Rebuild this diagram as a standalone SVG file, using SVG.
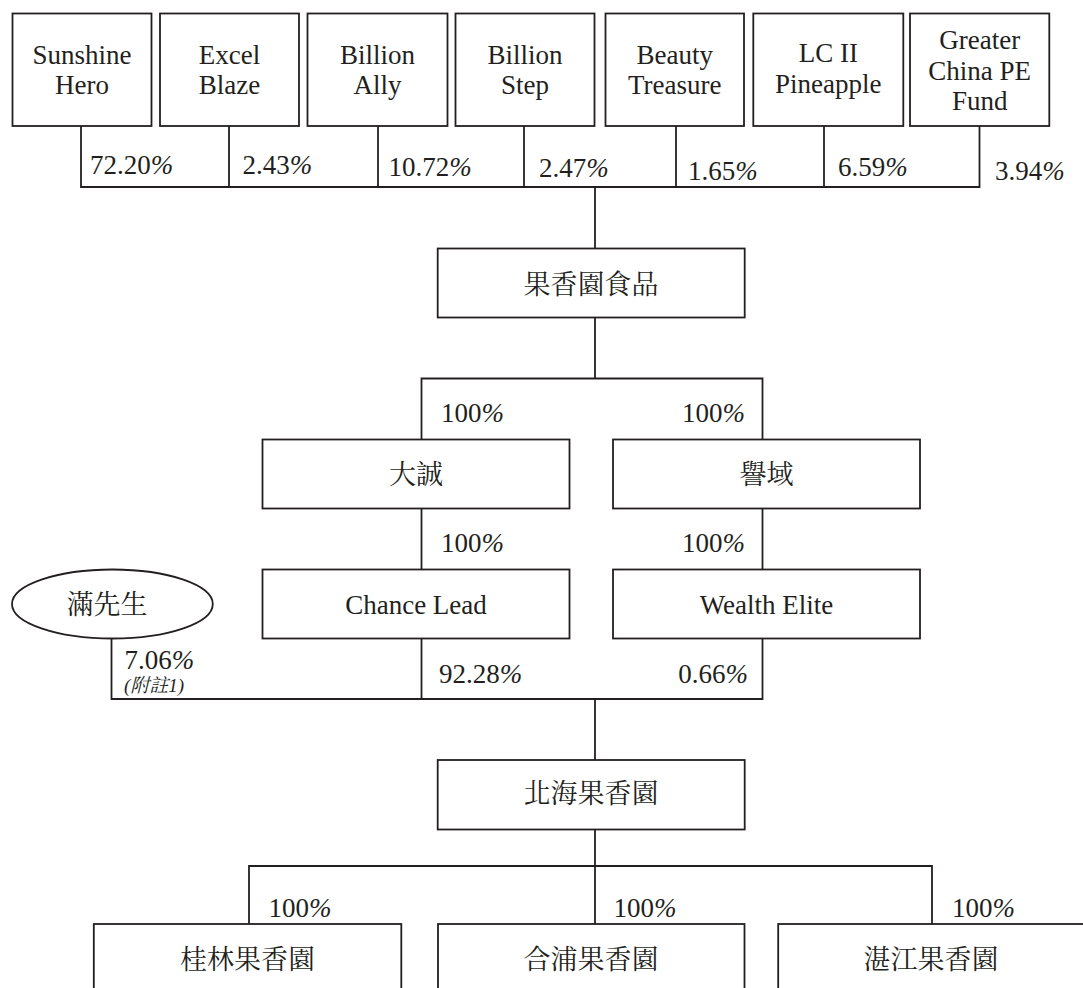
<svg xmlns="http://www.w3.org/2000/svg" width="1083" height="988" viewBox="0 0 1083 988">
<style>
.box{fill:#fff;stroke:#231f20;stroke-width:1.8}
.ln{fill:none;stroke:#231f20;stroke-width:1.8}
text{font-family:"Liberation Serif","Noto Serif CJK TC","Noto Sans CJK TC",serif;font-size:27px;fill:#231f20}
.c{text-anchor:middle}
.e{text-anchor:end}
.i{font-style:italic}
.note{font-size:19px;font-style:italic}
</style>
<rect width="1083" height="988" fill="#fff"/>
<g id="connectors">
<polyline class="ln" points="81,126 81,187 979.5,187 979.5,126"/>
<line class="ln" x1="229" y1="126" x2="229" y2="187"/>
<line class="ln" x1="378" y1="126" x2="378" y2="187"/>
<line class="ln" x1="524" y1="126" x2="524" y2="187"/>
<line class="ln" x1="676" y1="126" x2="676" y2="187"/>
<line class="ln" x1="824" y1="126" x2="824" y2="187"/>
<line class="ln" x1="595" y1="187" x2="595" y2="248.5"/>
<line class="ln" x1="595" y1="317.5" x2="595" y2="378.5"/>
<polyline class="ln" points="421.5,439.5 421.5,378.5 762.5,378.5 762.5,439.5"/>
<line class="ln" x1="421.5" y1="508.5" x2="421.5" y2="569.5"/>
<line class="ln" x1="762.5" y1="508.5" x2="762.5" y2="569.5"/>
<polyline class="ln" points="111.5,638.5 111.5,699 762.5,699 762.5,638.5"/>
<line class="ln" x1="421.5" y1="638.5" x2="421.5" y2="699"/>
<line class="ln" x1="595" y1="699" x2="595" y2="760"/>
<line class="ln" x1="595" y1="829.5" x2="595" y2="924"/>
<polyline class="ln" points="249,924 249,866 932,866 932,924"/>
<text x="90" y="174">72.20<tspan class="i">%</tspan></text>
<text x="242.5" y="174">2.43<tspan class="i">%</tspan></text>
<text x="388.5" y="175.5">10.72<tspan class="i">%</tspan></text>
<text x="539" y="177">2.47<tspan class="i">%</tspan></text>
<text x="688" y="180">1.65<tspan class="i">%</tspan></text>
<text x="838" y="176">6.59<tspan class="i">%</tspan></text>
<text x="995" y="180">3.94<tspan class="i">%</tspan></text>
<text x="441" y="422">100<tspan class="i">%</tspan></text>
<text class="e" x="745" y="422">100<tspan class="i">%</tspan></text>
<text x="441" y="552">100<tspan class="i">%</tspan></text>
<text class="e" x="745" y="552">100<tspan class="i">%</tspan></text>
<text x="124.5" y="668.5">7.06<tspan class="i">%</tspan></text>
<text class="note" x="124" y="692">(附註1)</text>
<text x="439" y="683">92.28<tspan class="i">%</tspan></text>
<text class="e" x="748" y="683">0.66<tspan class="i">%</tspan></text>
<text x="268.5" y="917">100<tspan class="i">%</tspan></text>
<text x="613.5" y="917">100<tspan class="i">%</tspan></text>
<text x="952" y="917">100<tspan class="i">%</tspan></text>
</g>
<g id="n-sunshine"><rect class="box" x="12.5" y="13.5" width="139" height="112.5"/><text class="c" x="82" y="63.5">Sunshine</text><text class="c" x="82" y="94">Hero</text></g>
<g id="n-excel"><rect class="box" x="160" y="13.5" width="139" height="112.5"/><text class="c" x="229.5" y="63.5">Excel</text><text class="c" x="229.5" y="94">Blaze</text></g>
<g id="n-ally"><rect class="box" x="307.5" y="13.5" width="140" height="112.5"/><text class="c" x="377.5" y="63.5">Billion</text><text class="c" x="377.5" y="94">Ally</text></g>
<g id="n-step"><rect class="box" x="455.5" y="13.5" width="139" height="112.5"/><text class="c" x="525" y="63.5">Billion</text><text class="c" x="525" y="94">Step</text></g>
<g id="n-beauty"><rect class="box" x="605.5" y="13.5" width="138.5" height="112.5"/><text class="c" x="674.7" y="63.5">Beauty</text><text class="c" x="674.7" y="94">Treasure</text></g>
<g id="n-lc"><rect class="box" x="753.3" y="13.5" width="150" height="112.5"/><text class="c" x="828.3" y="62">LC II</text><text class="c" x="828.3" y="92.5">Pineapple</text></g>
<g id="n-gcpe"><rect class="box" x="910" y="13.5" width="139.3" height="112.5"/><text class="c" x="979.7" y="49">Greater</text><text class="c" x="979.7" y="79.5">China PE</text><text class="c" x="979.7" y="110">Fund</text></g>
<g id="n-gxy"><rect class="box" x="437.7" y="248.5" width="307" height="69"/><text class="c" x="591" y="293.5">果香園食品</text></g>
<g id="n-dacheng"><rect class="box" x="262.5" y="439.5" width="307" height="69"/><text class="c" x="416" y="483.5">大誠</text></g>
<g id="n-yuyu"><rect class="box" x="613" y="439.5" width="307" height="69"/><text class="c" x="766.5" y="483.5">譽域</text></g>
<g id="n-chance"><rect class="box" x="262.5" y="569.5" width="307" height="69"/><text class="c" x="416" y="614">Chance Lead</text></g>
<g id="n-wealth"><rect class="box" x="613" y="569.5" width="307" height="69"/><text class="c" x="766.5" y="614">Wealth Elite</text></g>
<g id="n-man"><ellipse class="box" cx="112.4" cy="604" rx="100.4" ry="34.5"/><text class="c" x="107" y="614">滿先生</text></g>
<g id="n-beihai"><rect class="box" x="437.7" y="760" width="307" height="69.5"/><text class="c" x="591" y="803">北海果香園</text></g>
<g id="n-guilin"><rect class="box" x="93.8" y="924" width="307.5" height="90"/><text class="c" x="247.5" y="968.5">桂林果香園</text></g>
<g id="n-hepu"><rect class="box" x="438" y="924" width="306.5" height="90"/><text class="c" x="591" y="968.5">合浦果香園</text></g>
<g id="n-zhanjiang"><rect class="box" x="778.2" y="924" width="306" height="90"/><text class="c" x="931" y="968.5">湛江果香園</text></g>
</svg>
